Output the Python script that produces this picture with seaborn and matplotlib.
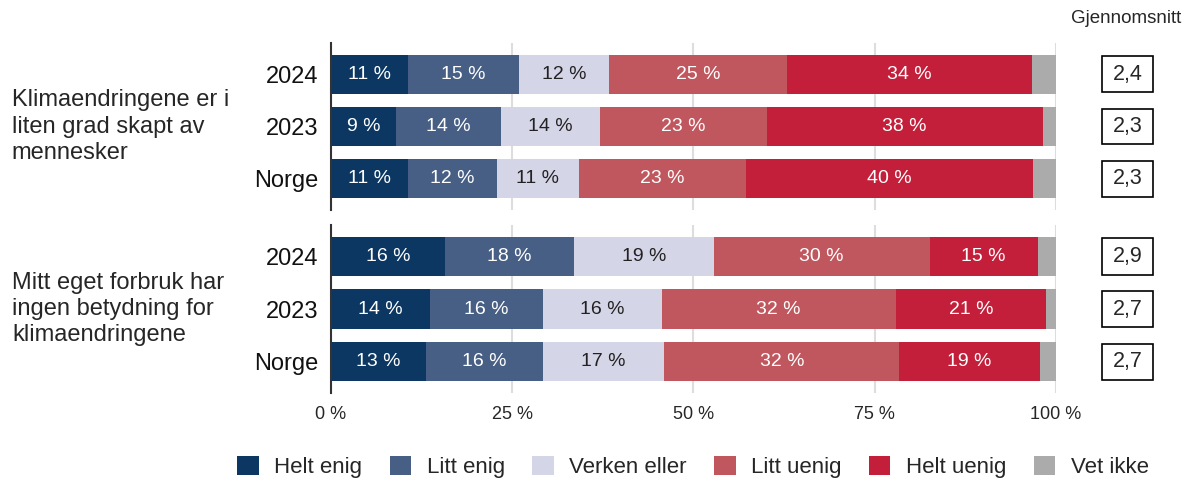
import numpy as np
import pandas as pd
import matplotlib.pyplot as plt
import matplotlib.transforms as mtransforms
from matplotlib.patches import Rectangle
import seaborn as sns

sns.set_theme(style="white")
plt.rcParams['font.family'] = ['Liberation Sans', 'DejaVu Sans']

# Data
categories = ['Helt enig', 'Litt enig', 'Verken eller', 'Litt uenig', 'Helt uenig', 'Vet ikke']
colors = ['#0B3762', '#475F84', '#D5D5E8', '#C0575E', '#C41F3A', '#ABABAB']
rows = ['2024', '2023', 'Norge']
questions = ['Klimaendringene er i\nliten grad skapt av\nmennesker',
             'Mitt eget forbruk har\ningen betydning for\nklimaendringene']

# percent per category, one list per row
q1_2024 = [10.6, 15.4, 12.3, 24.6, 33.8, 3.3]
q1_2023 = [9.0, 14.4, 13.7, 23.0, 38.1, 1.8]
q1_norge = [10.6, 12.3, 11.3, 23.0, 39.6, 3.2]
q2_2024 = [15.7, 17.8, 19.3, 29.8, 14.9, 2.5]
q2_2023 = [13.6, 15.7, 16.3, 32.3, 20.8, 1.3]
q2_norge = [13.1, 16.1, 16.8, 32.4, 19.4, 2.2]

q1_avg = [2.4, 2.3, 2.3]
q2_avg = [2.9, 2.7, 2.7]

panels = [
    (questions[0], [q1_2024, q1_2023, q1_norge], q1_avg),
    (questions[1], [q2_2024, q2_2023, q2_norge], q2_avg),
]

fig = plt.figure(figsize=(11.93, 4.82), dpi=100)
ax_top = fig.add_axes([0.2775, 0.5643, 0.6075, 0.3465])
ax_bot = fig.add_axes([0.2775, 0.1846, 0.6075, 0.3486])
axes = [ax_top, ax_bot]

for ax, (question, values, avgs) in zip(axes, panels):
    df = pd.DataFrame(values, index=rows, columns=categories)
    cum = df.cumsum(axis=1)
    long = cum.reset_index().melt(id_vars='index', var_name='cat', value_name='cum')
    long = long.rename(columns={'index': 'row'})

    # stacked bars: draw cumulative totals from last to first
    for cat, col in reversed(list(zip(categories, colors))):
        sns.barplot(data=long[long['cat'] == cat], x='cum', y='row', order=rows,
                    color=col, saturation=1, errorbar=None, width=0.75,
                    linewidth=0, orient='h', ax=ax, zorder=2)

    # value labels inside segments
    for i, r in enumerate(rows):
        for j, cat in enumerate(categories[:-1]):
            v = df.loc[r, cat]
            c = cum.loc[r, cat] - v / 2
            tc = '#222222' if cat == 'Verken eller' else 'white'
            ax.text(c, i, f'{round(v)} %', ha='center', va='center',
                    fontsize=14, color=tc, zorder=3)

    # average boxes
    blend = mtransforms.blended_transform_factory(ax.transAxes, ax.transData)
    for i, a in enumerate(avgs):
        ax.add_patch(Rectangle((1.099 - 0.0352, i - 0.343), 0.0704, 0.686,
                               transform=blend, facecolor='white', edgecolor='black',
                               linewidth=1.2, clip_on=False))
        ax.text(1.099, i, f'{a:.1f}'.replace('.', ','), ha='center', va='center',
                fontsize=15.5, transform=blend)

    # group label on the left
    ax.text(0.01, 1, question, ha='left', va='center', fontsize=17, linespacing=1.25,
            transform=mtransforms.blended_transform_factory(fig.transFigure, ax.transData))

    ax.set_xlim(0, 100)
    ax.set_ylim(2.6, -0.6)
    ax.set_xticks([0, 25, 50, 75, 100])
    ax.xaxis.grid(True, color='#DDDDDD', linewidth=1.5, zorder=0)
    ax.set_axisbelow(True)
    ax.set_xlabel('')
    ax.set_ylabel('')
    for s in ['top', 'right', 'bottom']:
        ax.spines[s].set_visible(False)
    ax.spines['left'].set_color('#333333')
    ax.spines['left'].set_linewidth(1.5)
    ax.spines['left'].set_zorder(4)
    ax.tick_params(axis='y', length=0, pad=9, labelsize=17, colors='#111111')
    ax.tick_params(axis='x', length=0, pad=9, labelsize=13)

ax_top.set_xticklabels([])
ax_bot.set_xticklabels([f'{t} %' for t in [0, 25, 50, 75, 100]])

fig.text(0.944, 0.962, 'Gjennomsnitt', ha='center', va='center', fontsize=13.5)

handles = [Rectangle((0, 0), 1, 1, facecolor=c, edgecolor='none') for c in colors]
fig.legend(handles, categories, loc='center', bbox_to_anchor=(0.581, 0.031), ncol=6,
           frameon=False, fontsize=16, handlelength=0.95, handleheight=0.95,
           handletextpad=0.7, columnspacing=1.25)

fig.savefig('out.png', dpi=100)
